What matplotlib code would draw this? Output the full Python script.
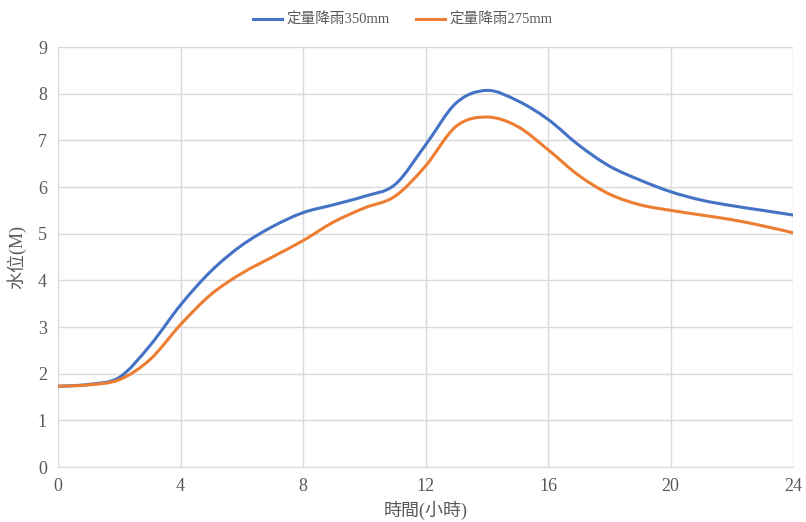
import matplotlib
matplotlib.use("Agg")
import matplotlib.pyplot as plt
from matplotlib.path import Path
from matplotlib.patches import PathPatch
from matplotlib.lines import Line2D
import numpy as np

plt.rcParams['font.family'] = ['Liberation Serif', 'Noto Sans CJK TC', 'DejaVu Sans']

hours = list(range(0, 25))
level_350 = [1.73, 1.77, 1.92, 2.6, 3.47, 4.2, 4.75, 5.15, 5.45, 5.62, 5.8, 6.05, 6.9,
             7.8, 8.07, 7.85, 7.45, 6.9, 6.45, 6.15, 5.9, 5.72, 5.6, 5.5, 5.4]
level_275 = [1.73, 1.76, 1.87, 2.3, 3.05, 3.7, 4.15, 4.5, 4.85, 5.25, 5.55, 5.8, 6.45,
             7.3, 7.5, 7.3, 6.8, 6.25, 5.85, 5.62, 5.5, 5.4, 5.3, 5.17, 5.02]
series_names = ['定量降雨350mm', '定量降雨275mm']
colors = ['#4472C4', '#ED7D31']
x_ticks = [0, 4, 8, 12, 16, 20, 24]
y_ticks = list(range(0, 10))
text_color = '#595959'


def smooth_path(xs, ys, tension=1 / 6):
    """Cubic Bezier path through the points (Catmull-Rom style smoothing)."""
    pts = np.column_stack([xs, ys]).astype(float)
    n = len(pts)
    verts = [pts[0]]
    codes = [Path.MOVETO]
    for i in range(n - 1):
        p0 = pts[i - 1] if i > 0 else pts[i]
        p1 = pts[i]
        p2 = pts[i + 1]
        p3 = pts[i + 2] if i + 2 < n else pts[i + 1]
        c1 = p1 + (p2 - p0) * tension
        c2 = p2 - (p3 - p1) * tension
        verts += [c1, c2, p2]
        codes += [Path.CURVE4] * 3
    return Path(verts, codes)


fig = plt.figure(figsize=(8.06, 5.22), dpi=100)
ax = fig.add_axes([58 / 806, 1 - 467 / 522, (793 - 58) / 806, (467 - 47) / 522])

for ys, c in zip([level_350, level_275], colors):
    patch = PathPatch(smooth_path(hours, ys), facecolor='none', edgecolor=c,
                      lw=2.2, capstyle='round', joinstyle='round', zorder=3)
    ax.add_patch(patch)

ax.set_xlim(0, 24)
ax.set_ylim(0, 9)
ax.set_xticks(x_ticks)
ax.set_yticks(y_ticks)
ax.grid(True, color='#D9D9D9', lw=1)
ax.set_axisbelow(True)
for s in ['top', 'right', 'left']:
    ax.spines[s].set_visible(False)
ax.spines['bottom'].set_color('#D9D9D9')
ax.tick_params(length=0, labelsize=13, colors=text_color, pad=8)

ax.set_xlabel('時間(小時)', fontsize=13, color=text_color, labelpad=4)
ax.set_ylabel('水位(M)', fontsize=13, color=text_color, labelpad=8)

handles = [Line2D([0], [0], color=c, lw=2.2) for c in colors]
fig.legend(handles, series_names, loc='center', bbox_to_anchor=(0.5, 1 - 20 / 522),
           ncol=2, frameon=False, fontsize=10.5, labelcolor=text_color,
           handlelength=2.0, handletextpad=0.3, columnspacing=1.8)

fig.savefig('out.png', dpi=100)
